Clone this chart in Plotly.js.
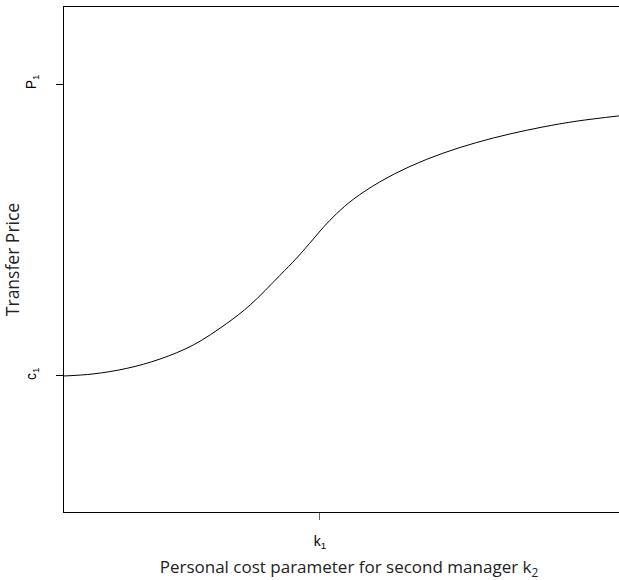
<!DOCTYPE html>
<html>
<head>
<meta charset="utf-8">
<script src="https://cdn.plot.ly/plotly-3.0.1.min.js"></script>
<style>html,body{margin:0;padding:0;background:#fff;overflow:hidden;}</style>
</head>
<body>
<div id="chart" style="width:634px;height:580px;"></div>
<script>
// k2 values (k1 = 1) and transfer price (c1 = 0, P1 = 1)
const k2 = [0, 0.114, 0.245, 0.375, 0.505, 0.636, 0.727, 0.844, 0.909, 0.974, 1.013, 1.065, 1.130, 1.234, 1.352, 1.48, 1.613, 1.742, 1.871, 2.004, 2.168];
const price = [0, 0.007, 0.026, 0.058, 0.106, 0.180, 0.243, 0.345, 0.404, 0.469, 0.509, 0.556, 0.605, 0.665, 0.718, 0.763, 0.800, 0.829, 0.853, 0.873, 0.891];
const xTickVals = [1];
const xTickText = ['k<sub>1</sub>'];
const yTickVals = [0, 1];
const yTickText = ['c<sub>1</sub>', 'P<sub>1</sub>'];

const trace = {
  x: k2, y: price, type: 'scatter', mode: 'lines',
  line: {color: '#000', width: 1, shape: 'spline', smoothing: 1},
  hoverinfo: 'skip'
};

const layout = {
  width: 634, height: 580,
  margin: {l: 64, r: 0, t: 7, b: 68},
  paper_bgcolor: '#fff', plot_bgcolor: '#fff',
  showlegend: false,
  xaxis: {
    range: [0, 2.227],
    showgrid: false, zeroline: false,
    showline: true, linecolor: '#000', linewidth: 1, mirror: true,
    ticks: 'outside', ticklen: 7, tickcolor: '#666', tickwidth: 1,
    tickvals: xTickVals, ticktext: xTickText,
    ticklabelstandoff: 9,
    tickfont: {family: 'Liberation Sans, Arial, sans-serif', size: 14, color: '#000'},
    title: {text: 'Personal cost parameter for second manager k<sub>2</sub>', standoff: 13,
            font: {family: 'Open Sans, sans-serif', size: 17, color: '#222'}}
  },
  yaxis: {
    range: [-0.466, 1.264],
    showgrid: false, zeroline: false,
    showline: true, linecolor: '#000', linewidth: 1, mirror: false,
    ticks: 'outside', ticklen: 7, tickcolor: '#000', tickwidth: 1,
    tickvals: yTickVals, ticktext: yTickText, tickangle: -90,
    ticklabelstandoff: 14,
    tickfont: {family: 'Liberation Sans, Arial, sans-serif', size: 14, color: '#000'},
    title: {text: 'Transfer Price', standoff: 3,
            font: {family: 'Open Sans, sans-serif', size: 17.5, color: '#222'}}
  }
};

Plotly.newPlot('chart', [trace], layout, {displayModeBar: false, staticPlot: true});
</script>
</body>
</html>
